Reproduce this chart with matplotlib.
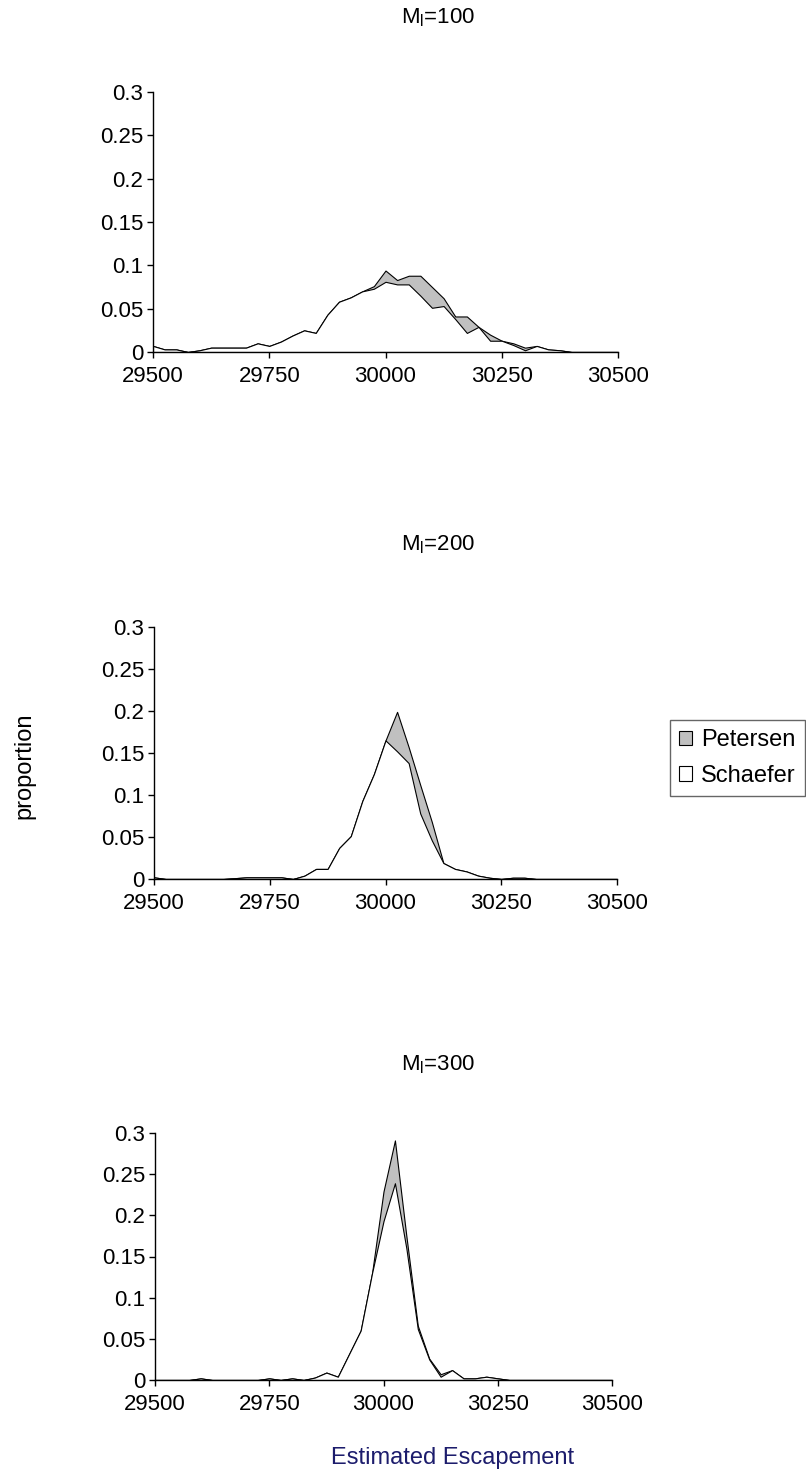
import matplotlib
matplotlib.use("Agg")
import matplotlib.pyplot as plt
from matplotlib.patches import Patch

plt.rcParams['font.family'] = ['Liberation Sans', 'DejaVu Sans']

escapement = [29500, 29525, 29550, 29575, 29600, 29625, 29650, 29675, 29700, 29725,
              29750, 29775, 29800, 29825, 29850, 29875, 29900, 29925, 29950, 29975,
              30000, 30025, 30050, 30075, 30100, 30125, 30150, 30175, 30200, 30225,
              30250, 30275, 30300, 30325, 30350, 30375, 30400, 30425, 30450, 30475, 30500]

schaefer_100 = [0.007, 0.003, 0.003, 0.000, 0.002, 0.005, 0.005, 0.005, 0.005, 0.010,
                0.007, 0.012, 0.019, 0.025, 0.022, 0.043, 0.058, 0.063, 0.070, 0.073,
                0.081, 0.078, 0.078, 0.065, 0.051, 0.053, 0.038, 0.022, 0.029, 0.013,
                0.013, 0.008, 0.002, 0.007, 0.003, 0.002, 0.000, 0.0, 0.0, 0.0, 0.0]
petersen_100 = [0.007, 0.003, 0.003, 0.000, 0.002, 0.005, 0.005, 0.005, 0.005, 0.010,
                0.007, 0.012, 0.019, 0.025, 0.022, 0.043, 0.058, 0.063, 0.070, 0.076,
                0.094, 0.083, 0.088, 0.088, 0.075, 0.062, 0.041, 0.041, 0.029, 0.020,
                0.013, 0.010, 0.005, 0.007, 0.003, 0.002, 0.000, 0.0, 0.0, 0.0, 0.0]

schaefer_200 = [0.002, 0.0, 0.0, 0.0, 0.0, 0.0, 0.0, 0.001, 0.002, 0.002,
                0.002, 0.002, 0.0, 0.004, 0.012, 0.012, 0.037, 0.051, 0.093, 0.125,
                0.165, 0.152, 0.138, 0.078, 0.046, 0.019, 0.012, 0.009, 0.004, 0.0015,
                0.0, 0.0015, 0.0015, 0.0, 0.0, 0.0, 0.0, 0.0, 0.0, 0.0, 0.0]
petersen_200 = [0.002, 0.0, 0.0, 0.0, 0.0, 0.0, 0.0, 0.001, 0.002, 0.002,
                0.002, 0.002, 0.0, 0.004, 0.012, 0.012, 0.037, 0.051, 0.093, 0.125,
                0.165, 0.199, 0.157, 0.112, 0.068, 0.019, 0.012, 0.009, 0.004, 0.0015,
                0.0, 0.0015, 0.0015, 0.0, 0.0, 0.0, 0.0, 0.0, 0.0, 0.0, 0.0]

schaefer_300 = [0.0, 0.0, 0.0, 0.0, 0.002, 0.0, 0.0, 0.0, 0.0, 0.0,
                0.002, 0.0, 0.002, 0.0, 0.003, 0.009, 0.004, 0.032, 0.060, 0.130,
                0.193, 0.239, 0.160, 0.062, 0.025, 0.004, 0.012, 0.002, 0.002, 0.004,
                0.002, 0.0, 0.0, 0.0, 0.0, 0.0, 0.0, 0.0, 0.0, 0.0, 0.0]
petersen_300 = [0.0, 0.0, 0.0, 0.0, 0.002, 0.0, 0.0, 0.0, 0.0, 0.0,
                0.002, 0.0, 0.002, 0.0, 0.003, 0.009, 0.004, 0.032, 0.060, 0.130,
                0.229, 0.291, 0.175, 0.066, 0.026, 0.007, 0.012, 0.002, 0.002, 0.004,
                0.002, 0.0, 0.0, 0.0, 0.0, 0.0, 0.0, 0.0, 0.0, 0.0, 0.0]

titles = ["100", "200", "300"]
x_ticks = [29500, 29750, 30000, 30250, 30500]
y_ticks = [0, 0.05, 0.1, 0.15, 0.2, 0.25, 0.3]
y_ticklabels = ["0", "0.05", "0.1", "0.15", "0.2", "0.25", "0.3"]
series_names = ["Petersen", "Schaefer"]

W, H = 806, 1484
fig = plt.figure(figsize=(W / 100, H / 100), dpi=100)

# panel boxes in pixels: left, right, top, bottom
boxes = [(153, 618, 92, 352), (154, 617, 627, 879), (155, 612, 1133, 1380)]
title_pos = [(401, 18), (401, 545), (401, 1065)]
panels = [(petersen_100, schaefer_100), (petersen_200, schaefer_200), (petersen_300, schaefer_300)]

GRAY = '#c0c0c0'
for (l, r, t, b), (pet, sch), ttl, (tx, ty) in zip(boxes, panels, titles, title_pos):
    ax = fig.add_axes([l / W, 1 - b / H, (r - l) / W, (b - t) / H])
    ax.fill_between(escapement, 0, pet, facecolor=GRAY, edgecolor='black', linewidth=0.8, zorder=2)
    ax.fill_between(escapement, 0, sch, facecolor='white', edgecolor='black', linewidth=0.8, zorder=3)
    ax.set_xlim(29500, 30500)
    ax.set_ylim(0, 0.3)
    ax.set_xticks(x_ticks)
    ax.set_xticklabels([str(v) for v in x_ticks])
    ax.set_yticks(y_ticks)
    ax.set_yticklabels(y_ticklabels)
    for s in ['top', 'right']:
        ax.spines[s].set_visible(False)
    for s in ['left', 'bottom']:
        ax.spines[s].set_linewidth(1.0)
        ax.spines[s].set_color('black')
        ax.spines[s].set_zorder(5)
    ax.tick_params(axis='both', direction='out', length=4, width=1, labelsize=16, colors='black')
    ax.tick_params(axis='x', pad=6)
    ax.tick_params(axis='y', pad=3)
    ax.set_facecolor('none')
    fig.text(tx / W, 1 - ty / H, r'$\mathregular{M_l}$=' + ttl, ha='left', va='center', fontsize=16)

fig.text(24 / W, 1 - 766 / H, 'proportion', rotation=90, ha='center', va='center', fontsize=17)
fig.text(453 / W, 1 - 1458 / H, 'Estimated Escapement', ha='center', va='center', fontsize=17, color='#1c1c6c')

handles = [Patch(facecolor=GRAY, edgecolor='black', linewidth=0.8),
           Patch(facecolor='white', edgecolor='black', linewidth=0.8)]
leg = fig.legend(handles, series_names, loc='upper left', bbox_to_anchor=(670 / W, 1 - 720 / H),
                 borderaxespad=0, fontsize=17, frameon=True, fancybox=False,
                 handlelength=0.55, handleheight=0.55, handletextpad=0.35, labelspacing=0.57,
                 borderpad=0.4)
leg.get_frame().set_edgecolor('#404040')
leg.get_frame().set_linewidth(1.0)

fig.savefig('out.png', dpi=100)
